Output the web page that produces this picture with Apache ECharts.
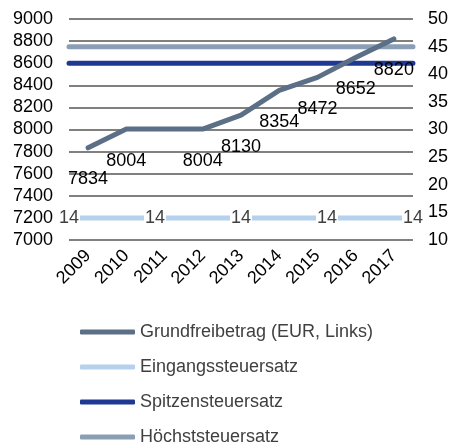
<!DOCTYPE html>
<html><head><meta charset="utf-8">
<script src="https://cdn.jsdelivr.net/npm/echarts@6/dist/echarts.min.js"></script>
<style>html,body{margin:0;padding:0;background:#fff}#c{width:451px;height:447px}</style>
</head><body><div id="c"></div>
<script>
const years = ['2009','2010','2011','2012','2013','2014','2015','2016','2017'];
const grundfreibetrag = [7834, 8004, 8004, 8004, 8130, 8354, 8472, 8652, 8820];
const grundLabelShown = [true, true, false, true, true, true, true, true, true];
const rateCategories = ['2009','2011','2013','2015','2017'];
const eingangssteuersatz = [14, 14, 14, 14, 14];
const spitzensteuersatz = [42, 42, 42, 42, 42];
const hoechststeuersatz = [45, 45, 45, 45, 45];
const leftTicks = {min: 7000, max: 9000, interval: 200};
const rightTicks = {min: 10, max: 50, interval: 5};

const FONT = 'Liberation Sans, Arial, sans-serif';
const plain = v => String(v);
const chart = echarts.init(document.getElementById('c'), null, {renderer: 'canvas'});
chart.setOption({
  animation: false,
  textStyle: {fontFamily: FONT},
  grid: {left: 69, right: 38, top: 19, bottom: 207, containLabel: false},
  legend: {
    orient: 'vertical', left: 80, top: 323, padding: 0, itemWidth: 55, itemHeight: 5, itemGap: 17,
    icon: 'roundRect',
    textStyle: {fontFamily: FONT, fontSize: 18, color: '#404040', lineHeight: 18},
    data: ['Grundfreibetrag (EUR, Links)', 'Eingangssteuersatz', 'Spitzensteuersatz', 'Höchststeuersatz']
  },
  xAxis: [
    {type: 'category', data: years, boundaryGap: true,
     axisLine: {show: false}, axisTick: {show: false},
     axisLabel: {rotate: 45, margin: 13, fontSize: 18, color: '#000', fontFamily: FONT}},
    {type: 'category', data: rateCategories, boundaryGap: false, show: false}
  ],
  yAxis: [
    {type: 'value', position: 'left', min: leftTicks.min, max: leftTicks.max, interval: leftTicks.interval,
     axisLine: {show: false}, axisTick: {show: false},
     axisLabel: {fontSize: 18, color: '#000', margin: 16, fontFamily: FONT, formatter: plain},
     splitLine: {lineStyle: {color: '#808080', width: 2}}},
    {type: 'value', position: 'right', min: rightTicks.min, max: rightTicks.max, interval: rightTicks.interval,
     axisLine: {show: false}, axisTick: {show: false}, splitLine: {show: false},
     axisLabel: {fontSize: 18, color: '#000', margin: 15, fontFamily: FONT, formatter: plain}}
  ],
  series: [
    {name: 'Grundfreibetrag (EUR, Links)', type: 'line', xAxisIndex: 0, yAxisIndex: 0,
     data: grundfreibetrag.map((v, i) => ({value: v, label: {show: grundLabelShown[i]}})),
     symbol: 'circle', symbolSize: 1, showSymbol: true,
     itemStyle: {color: '#5b6f86'},
     lineStyle: {color: '#5b6f86', width: 5, cap: 'round'},
     label: {show: true, position: 'bottom', distance: 22, fontSize: 18, color: '#000', fontFamily: FONT,
             formatter: p => String(p.value)},
     z: 4},
    {name: 'Eingangssteuersatz', type: 'line', xAxisIndex: 1, yAxisIndex: 1,
     data: eingangssteuersatz, symbol: 'circle', symbolSize: 1, showSymbol: true,
     itemStyle: {color: '#b5d1ee'},
     lineStyle: {color: '#b5d1ee', width: 5, cap: 'round'},
     label: {show: true, position: 'inside', fontSize: 18, color: '#404040', fontFamily: FONT,
             backgroundColor: '#fff', padding: [0, 1]},
     z: 3},
    {name: 'Spitzensteuersatz', type: 'line', xAxisIndex: 1, yAxisIndex: 1,
     data: spitzensteuersatz, showSymbol: false,
     itemStyle: {color: '#1f3893'},
     lineStyle: {color: '#1f3893', width: 5, cap: 'round'},
     z: 3},
    {name: 'Höchststeuersatz', type: 'line', xAxisIndex: 1, yAxisIndex: 1,
     data: hoechststeuersatz, showSymbol: false,
     itemStyle: {color: '#8a9fb6'},
     lineStyle: {color: '#8a9fb6', width: 5, cap: 'round'},
     z: 3}
  ]
});
</script></body></html>
